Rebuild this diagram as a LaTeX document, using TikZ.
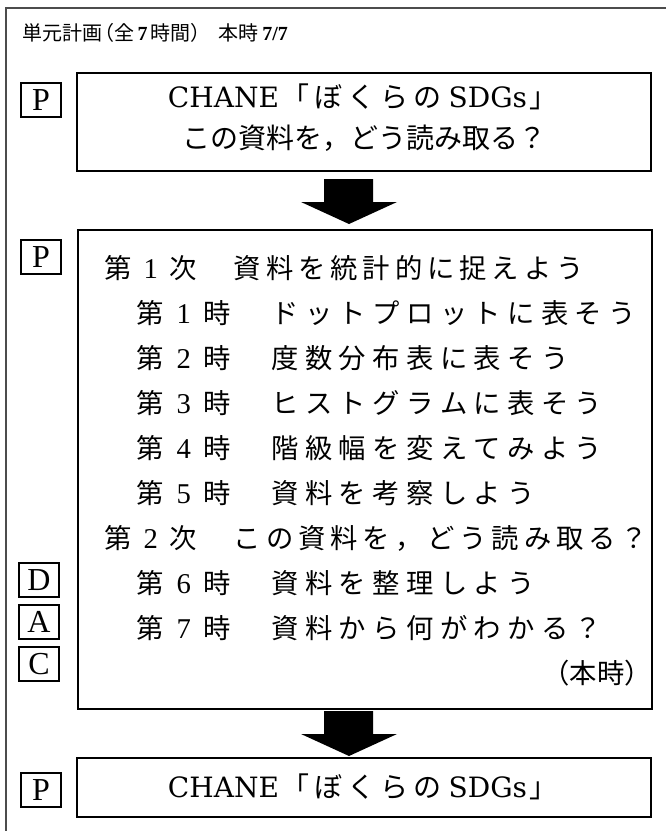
\documentclass[tikz,border=0pt]{standalone}
\usepackage{fontspec}
\setmainfont{Liberation Serif}
\newfontfamily\jp{Noto Sans CJK JP}
\newfontfamily\cent{DejaVu Serif}
\def\grend{\grend}
% characters on a fixed grid: first-level lines
\def\gra#1{\ifx\grend#1\else\makebox[24.2pt]{#1}\expandafter\gra\fi}
% characters on a fixed grid: second-level lines
\def\grb#1{\ifx\grend#1\else\makebox[25.3pt]{#1}\expandafter\grb\fi}
% wider grid for box 1 / box 3 first line
\def\grw#1{\ifx\grend#1\else\makebox[24.75pt]{#1}\expandafter\grw\fi}
\newcommand\dg[1]{{\rmfamily\fontsize{21.5}{21.5}\selectfont #1}}
\newcommand\lat[1]{{\cent\fontsize{21}{21}\selectfont #1}}
\begin{document}
\begin{tikzpicture}[x=0.75pt,y=-0.75pt,
  box/.style={draw, line width=1.4pt, inner sep=0pt},
  lab/.style={draw, line width=1.1pt, minimum width=30pt, minimum height=25.5pt, inner sep=0pt, font=\fontsize{24}{24}\selectfont},
  big/.style={inner sep=0pt, font=\fontsize{21}{21}\selectfont},
  row/.style={inner sep=0pt, anchor=west, font=\fontsize{20.5}{20.5}\selectfont\jp},
  arrowfill/.style={fill=black}]
\useasboundingbox (0,0) rectangle (666,831);
\draw[line width=1.4pt, draw=black!70] (666,8) -- (6,8) -- (6,831);

\node[inner sep=0pt, anchor=west, font=\fontsize{15}{15}\selectfont] (title) at (22,33)
  {\jp 単元計画\makebox[0.6em][r]{（}全\,{\rmfamily\bfseries 7}\,時間\makebox[0.6em][l]{）}\hspace{0.8em}本時\,{\rmfamily\bfseries 7/7}};

% boxes
\node[box, minimum width=430.5pt, minimum height=73.5pt] (b1) at (364,122) {};
\node[box, minimum width=430.5pt, minimum height=359.25pt] (b2) at (365,469.5) {};
\node[box, minimum width=430.5pt, minimum height=44.25pt] (b3) at (364,787.5) {};

% box 1 text
\node[big] (t1a) at (364,97) {\lat{CHANE}{\jp\grw「ぼくらの\grend}\,\lat{SDGs}{\jp\grw」\grend}};
\node[big] (t1b) at (364,138) {\jp この資料を，どう読み取る？};

% box 2 text
\node[row] (r1) at (102,268) {\gra 第{\dg 1}次　資料を統計的に捉えよう\grend};
\node[row] (r2) at (133,313) {\grb 第{\dg 1}時　ドットプロットに表そう\grend};
\node[row] (r3) at (133,358) {\grb 第{\dg 2}時　度数分布表に表そう\grend};
\node[row] (r4) at (133,403) {\grb 第{\dg 3}時　ヒストグラムに表そう\grend};
\node[row] (r5) at (133,448) {\grb 第{\dg 4}時　階級幅を変えてみよう\grend};
\node[row] (r6) at (133,493) {\grb 第{\dg 5}時　資料を考察しよう\grend};
\node[row] (r7) at (102,538) {\gra 第{\dg 2}次　この資料を，どう読み取る？\grend};
\node[row] (r8) at (133,583) {\grb 第{\dg 6}時　資料を整理しよう\grend};
\node[row] (r9) at (133,628) {\grb 第{\dg 7}時　資料から何がわかる？\grend};
\node[row, anchor=east] (r10) at (652,673) {（本時）};

% box 3 text
\node[big] (t3) at (364,787) {\lat{CHANE}{\jp\grw「ぼくらの\grend}\,\lat{SDGs}{\jp\grw」\grend}};

% labels
\node[lab] (p1) at (41,100) {P};
\node[lab] (p2) at (41,257) {P};
\node[lab] (ld) at (39,580) {D};
\node[lab] (la) at (39,622) {A};
\node[lab] (lc) at (39,664) {C};
\node[lab] (p3) at (41,790) {P};

% block arrows
\fill[arrowfill] (324,179) -- (373,179) -- (373,202) -- (397,202) -- (349,224) -- (301,202) -- (324,202) -- cycle;
\fill[arrowfill] (324,711) -- (373,711) -- (373,734) -- (397,734) -- (349,756) -- (301,734) -- (324,734) -- cycle;
\end{tikzpicture}
\end{document}
